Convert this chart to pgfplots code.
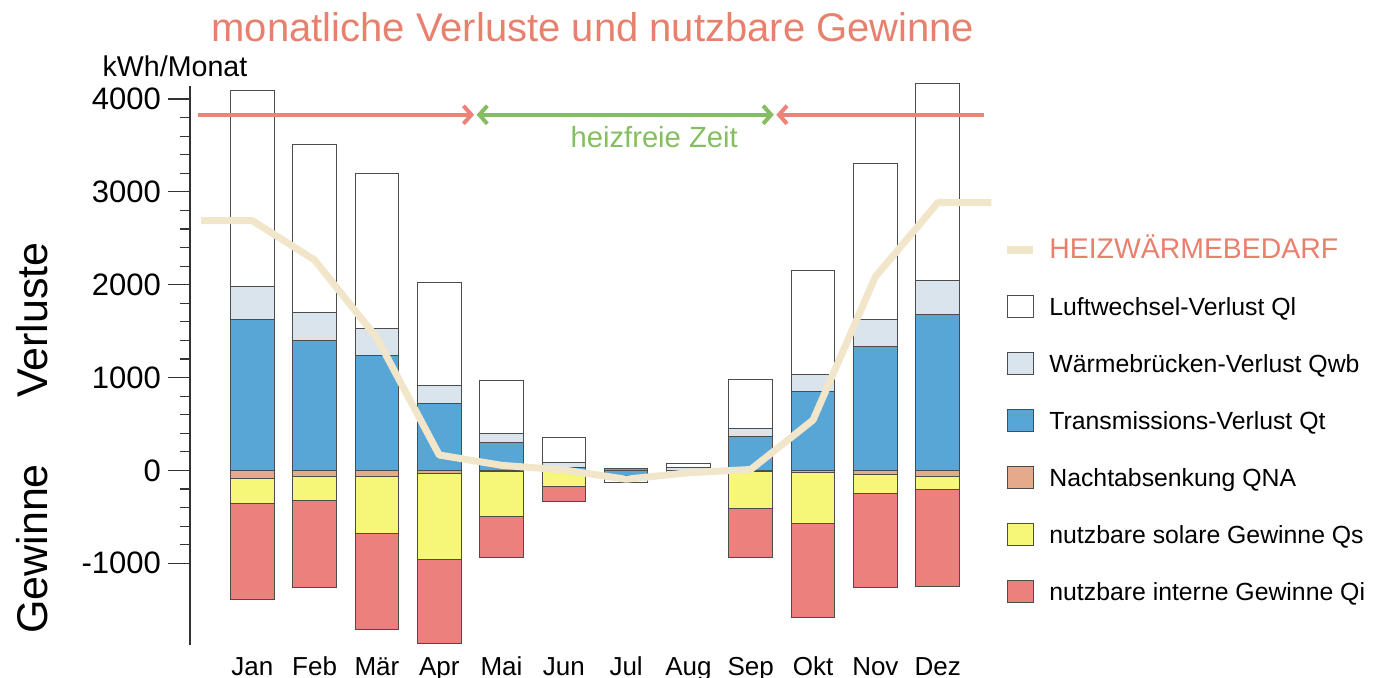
\documentclass[border=0pt]{standalone}
\usepackage{pgfplots}
\pgfplotsset{compat=1.18}
\usepackage{fontspec}
\setmainfont{Liberation Sans}
\usetikzlibrary{arrows.meta}
\definecolor{cQl}{RGB}{255,255,255}
\definecolor{cQwb}{RGB}{218,228,236}
\definecolor{cQt}{RGB}{88,166,214}
\definecolor{cNA}{RGB}{228,170,140}
\definecolor{cQs}{RGB}{246,246,120}
\definecolor{cQi}{RGB}{236,128,124}
\definecolor{cHeiz}{RGB}{242,230,202}
\definecolor{cTitle}{RGB}{232,128,110}
\definecolor{cGreen}{RGB}{132,190,96}
\definecolor{cRedArr}{RGB}{236,130,120}
\pgfplotsset{
  base/.style={width=405pt, height=279.5pt, scale only axis,
    xmin=-1, xmax=12, ymin=-1880, ymax=4140, clip=false},
  barst/.style={draw=black!70, line width=0.5pt},
}
\begin{document}
\begin{tikzpicture}
% negative stack (gains)
\begin{axis}[base, hide axis, ybar stacked, bar width=0.7]
\addplot[barst, fill=cQt] coordinates {(0,0) (1,0) (2,0) (3,0) (4,0) (5,0) (6,-55) (7,0) (8,0) (9,0) (10,0) (11,0)};
\addplot[barst, fill=cQl] coordinates {(0,0) (1,0) (2,0) (3,0) (4,0) (5,0) (6,-70) (7,-40) (8,0) (9,0) (10,0) (11,0)};
\addplot[barst, fill=cNA] coordinates {(0,-90) (1,-68) (2,-61) (3,-32) (4,-15) (5,-10) (6,0) (7,0) (8,-10) (9,-25) (10,-45) (11,-61)};
\addplot[barst, fill=cQs] coordinates {(0,-266) (1,-259) (2,-619) (3,-928) (4,-478) (5,-160) (6,0) (7,0) (8,-400) (9,-547) (10,-207) (11,-144)};
\addplot[barst, fill=cQi] coordinates {(0,-1036) (1,-939) (2,-1028) (3,-899) (4,-449) (5,-161) (6,0) (7,0) (8,-532) (9,-1017) (10,-1014) (11,-1043)};
\end{axis}
% positive stack (losses)
\begin{axis}[base, hide axis, ybar stacked, bar width=0.7]
\addplot[barst, fill=cQt] coordinates {(0,1629) (1,1395) (2,1241) (3,723) (4,299) (5,30) (6,20) (7,0) (8,364) (9,845) (10,1335) (11,1683)};
\addplot[barst, fill=cQwb] coordinates {(0,353) (1,306) (2,288) (3,187) (4,97) (5,50) (6,0) (7,30) (8,86) (9,183) (10,287) (11,360)};
\addplot[barst, fill=cQl] coordinates {(0,2111) (1,1806) (2,1665) (3,1115) (4,568) (5,273) (6,0) (7,45) (8,524) (9,1123) (10,1687) (11,2122)};
\end{axis}
% main axis: ticks, line, annotations, legend
\begin{axis}[base,
  axis lines*=left,
  x axis line style={draw=none},
  y axis line style={black!80, line width=0.7pt},
  xtick={0,1,...,11},
  xticklabels={Jan,Feb,Mär,Apr,Mai,Jun,Jul,Aug,Sep,Okt,Nov,Dez},
  x tick style={draw=none},
  ytick={-1000,0,1000,2000,3000,4000},
  minor y tick num=4,
  tick align=outside,
  major tick length=11pt,
  minor tick length=5pt,
  y tick style={black!80, line width=0.6pt},
  /pgf/number format/assume math mode=true,
  /pgf/number format/1000 sep={},
  yticklabel style={font=\fontsize{15.5}{16}\selectfont},
  xticklabel style={font=\fontsize{13}{14}\selectfont, inner sep=0pt,
    text height=9.5pt, text depth=2.5pt, yshift=5.5pt},
  legend cell align=left,
  legend style={draw=none, fill=none, inner sep=0pt, outer sep=0pt,
    at={(1.0042,0.7263)}, anchor=north west,
    row sep=17pt, column sep=5pt,
    font=\fontsize{12.4}{13}\selectfont,
    nodes={inner sep=1pt, text height=9pt, text depth=0pt}},
  legend image code/.code={\draw[#1] (0pt,-5.5pt) rectangle (13pt,5.5pt);},
]
\addplot[cHeiz, line width=3.5pt, line join=round, sharp plot, forget plot] coordinates {
 (-0.82,2690) (0,2690) (1,2266) (2,1426) (3,166) (4,55) (5,5) (6,-95) (7,-25) (8,10) (9,543) (10,2086) (11,2883) (11.86,2883)};
\draw[cRedArr, line width=2pt, -{Straight Barb[length=4pt,width=9pt]}] (axis cs:-0.87,3830) -- (axis cs:3.56,3830);
\draw[cGreen, line width=2pt, {Straight Barb[length=4pt,width=9pt]}-{Straight Barb[length=4pt,width=9pt]}] (axis cs:3.6,3830) -- (axis cs:8.37,3830);
\draw[cRedArr, line width=2pt, -{Straight Barb[length=4pt,width=9pt]}] (axis cs:11.75,3830) -- (axis cs:8.41,3830);
\node[text=cGreen, font=\fontsize{14.6}{15}\selectfont] at (axis cs:6.45,3590) {heizfreie Zeit};
\addlegendimage{legend image code/.code={\draw[cHeiz, line width=4pt] (0pt,0pt) -- (13pt,0pt);}}
\addlegendentry{\textcolor{cTitle}{\fontsize{14.2}{15}\selectfont HEIZWÄRMEBEDARF}}
\addlegendimage{barst, fill=cQl}
\addlegendentry{Luftwechsel-Verlust Ql}
\addlegendimage{barst, fill=cQwb}
\addlegendentry{Wärmebrücken-Verlust Qwb}
\addlegendimage{barst, fill=cQt}
\addlegendentry{Transmissions-Verlust Qt}
\addlegendimage{barst, fill=cNA}
\addlegendentry{Nachtabsenkung QNA}
\addlegendimage{barst, fill=cQs}
\addlegendentry{nutzbare solare Gewinne Qs}
\addlegendimage{barst, fill=cQi}
\addlegendentry{nutzbare interne Gewinne Qi}
\end{axis}
\node[text=cTitle, font=\fontsize{20}{22}\selectfont] at (201.5pt,309pt) {monatliche Verluste und nutzbare Gewinne};
\node[font=\fontsize{14.3}{15}\selectfont] at (-7.5pt,289.5pt) {kWh/Monat};
\node[rotate=90, font=\fontsize{21.5}{22}\selectfont] at (-79pt,162.5pt) {Verluste};
\node[rotate=90, font=\fontsize{21.5}{22}\selectfont] at (-79pt,48pt) {Gewinne};
\pgfresetboundingbox
\useasboundingbox (-95pt,-16.5pt) rectangle (593.5pt,322.5pt);
\end{tikzpicture}
\end{document}
